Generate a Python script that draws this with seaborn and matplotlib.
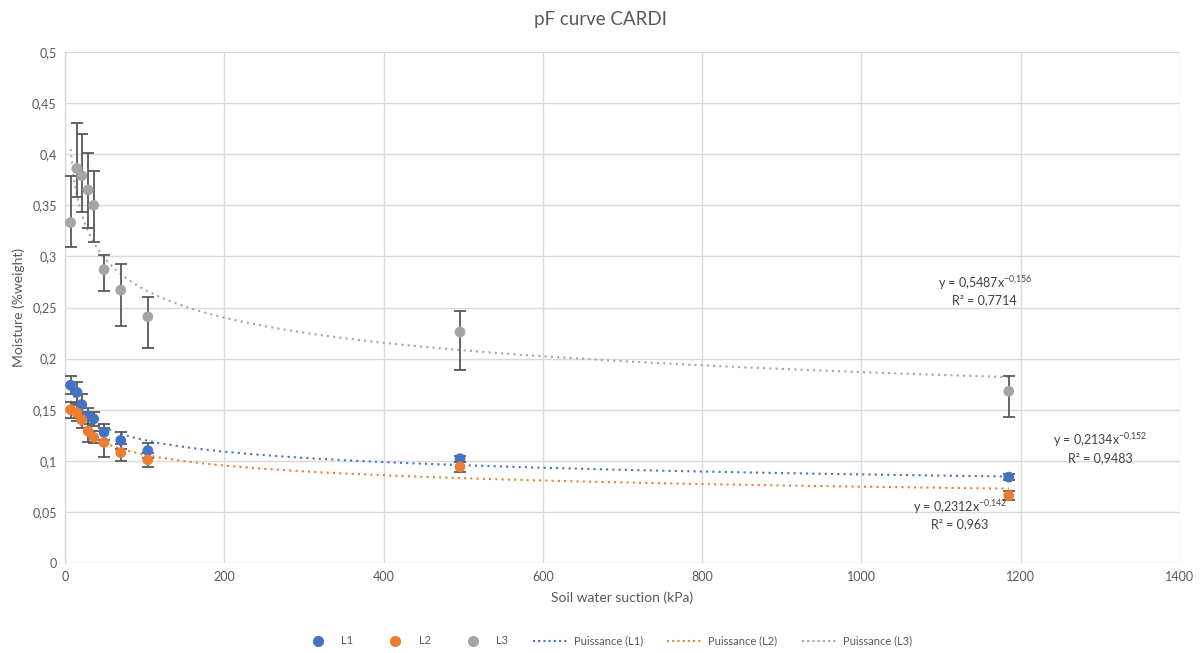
import numpy as np
import pandas as pd
import matplotlib
matplotlib.use("Agg")
import matplotlib.pyplot as plt
import seaborn as sns
from matplotlib.lines import Line2D

# ---- data ----
suction = [7, 15, 21, 29, 36, 49, 70, 104, 496, 1185]
L1 = [0.174, 0.167, 0.155, 0.144, 0.141, 0.128, 0.120, 0.110, 0.102, 0.084]
L2 = [0.150, 0.147, 0.140, 0.129, 0.123, 0.118, 0.108, 0.101, 0.094, 0.066]
L3 = [0.333, 0.386, 0.379, 0.365, 0.350, 0.287, 0.267, 0.241, 0.226, 0.168]
L1_err = [0.009, 0.010, 0.010, 0.008, 0.007, 0.008, 0.008, 0.007, 0.003, 0.003]
L2_err = [0.008, 0.008, 0.008, 0.011, 0.006, 0.014, 0.008, 0.007, 0.005, 0.004]
L3_low = [0.309, 0.358, 0.343, 0.328, 0.314, 0.266, 0.232, 0.210, 0.189, 0.143]
L3_high = [0.379, 0.431, 0.420, 0.401, 0.384, 0.301, 0.293, 0.260, 0.247, 0.183]
series_names = ["L1", "L2", "L3"]
fit_a = [0.2312, 0.2134, 0.5487]
fit_b = [-0.142, -0.152, -0.156]
fit_a_txt = ["0,2312", "0,2134", "0,5487"]
fit_b_txt = ["-0,142", "-0,152", "-0,156"]
fit_r2 = ["0,963", "0,9483", "0,7714"]
x_ticks = [0, 200, 400, 600, 800, 1000, 1200, 1400]
y_ticks = [0, 0.05, 0.1, 0.15, 0.2, 0.25, 0.3, 0.35, 0.4, 0.45, 0.5]

colors = ["#4472C4", "#ED7D31", "#A5A5A5"]

sns.set_theme(style="whitegrid")
plt.rcParams["font.family"] = ["Lato", "DejaVu Sans"]
plt.rcParams["mathtext.default"] = "regular"

fig = plt.figure(figsize=(12.03, 6.53), dpi=100)
ax = fig.add_axes([65/1203, 1-563/653, (1180-65)/1203, (563-52)/653])

values = [L1, L2, L3]
L3_errs = [np.array(L3) - np.array(L3_low), np.array(L3_high) - np.array(L3)]
errs = [L1_err, L2_err, L3_errs]

# trend lines (power fits)
for i, name in enumerate(series_names):
    xs = np.linspace(min(suction), max(suction), 400)
    ys = fit_a[i] * xs ** fit_b[i]
    sns.lineplot(x=xs, y=ys, ax=ax, color=colors[i], linestyle=(0, (1, 2)),
                 linewidth=1.5, zorder=2, legend=False)

# error bars and points
for i, name in enumerate(series_names):
    ax.errorbar(suction, values[i], yerr=errs[i], fmt="none", ecolor="#595959",
                elinewidth=1.3, capsize=4, capthick=1.3, zorder=3)
for i, name in enumerate(series_names):
    df = pd.DataFrame({"x": suction, "y": values[i]})
    sns.scatterplot(data=df, x="x", y="y", ax=ax, color=colors[i], s=60,
                    edgecolor="none", zorder=4, legend=False)

ax.set_xlim(0, 1400)
ax.set_ylim(0, 0.5)
ax.set_xticks(x_ticks)
ax.set_yticks(y_ticks)
ax.set_xticklabels([str(t) for t in x_ticks])
ax.set_yticklabels([("%g" % t).replace(".", ",") for t in y_ticks])
ax.tick_params(axis="both", labelsize=9, colors="#595959", length=0, pad=6)
ax.grid(True, color="#D9D9D9", linewidth=1)
for s in ["top", "right", "bottom"]:
    ax.spines[s].set_visible(False)
ax.spines["left"].set_color("#D9D9D9")
ax.spines["left"].set_linewidth(1)
ax.set_facecolor("white")

ax.set_xlabel("Soil water suction (kPa)", fontsize=10, color="#595959", labelpad=6)
ax.set_ylabel("Moisture (%weight)", fontsize=10, color="#595959", labelpad=5)
fig.text(600/1203, 1-20/653, "pF curve CARDI", ha="center", va="center",
         fontsize=13.5, color="#595959")

# annotations
ann_pos = [(1124, 0.055), (1300, 0.120), (1155, 0.274)]
for i in range(3):
    x, y = ann_pos[i]
    bexp = fit_b_txt[i].replace(",", "{,}")
    ax.text(x, y, "y = %sx$^{%s}$" % (fit_a_txt[i], bexp), ha="center",
            va="center", fontsize=9, color="#404040")
    ax.text(x, y - 0.017, "R² = %s" % fit_r2[i], ha="center", va="center",
            fontsize=9, color="#404040")

# legend
handles = []
labels = []
for i, name in enumerate(series_names):
    handles.append(Line2D([], [], marker="o", linestyle="none", color=colors[i],
                          markersize=7))
    labels.append(name)
for i, name in enumerate(series_names):
    handles.append(Line2D([], [], color=colors[i], linestyle=(0, (1, 1.5)),
                          linewidth=1.5))
    labels.append("Puissance (%s)" % name)
fig.legend(handles, labels, loc="center", bbox_to_anchor=(606/1203, 1-641/653),
           ncol=6, frameon=False, fontsize=8, labelcolor="#595959",
           handlelength=3.2, handletextpad=0.5, columnspacing=2.2)

fig.savefig("out.png", dpi=100, facecolor="white")
